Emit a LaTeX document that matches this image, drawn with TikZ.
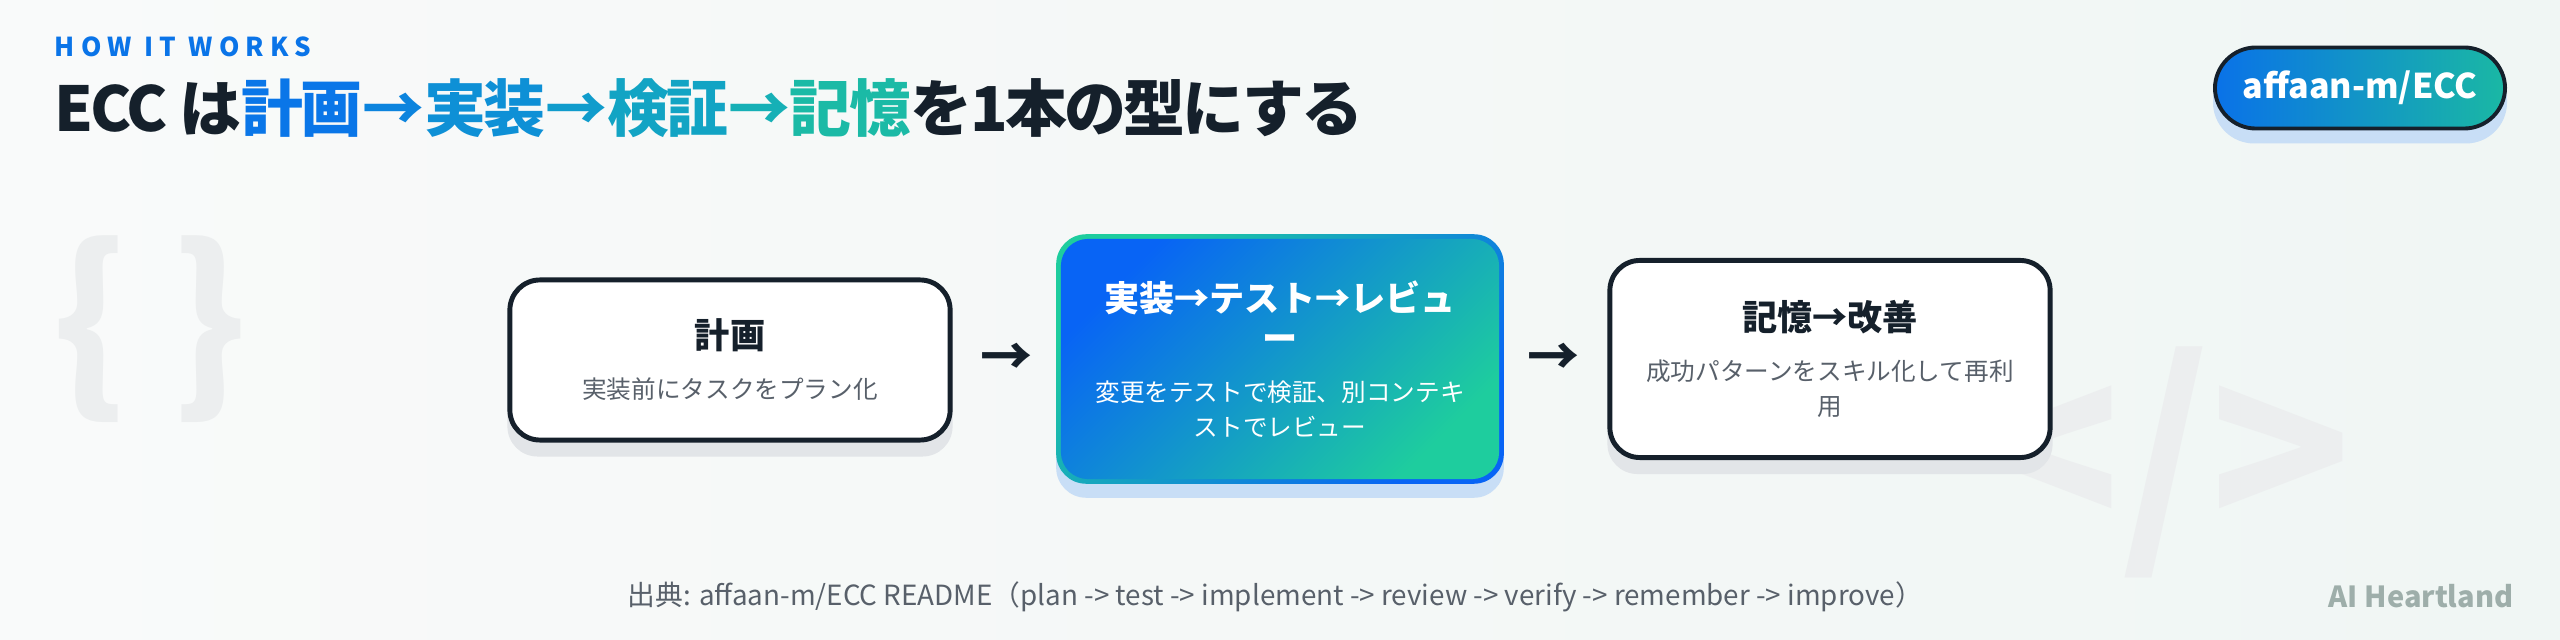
\documentclass[tikz,border=0pt]{standalone}
\usepackage{fontspec}
\setmainfont{Noto Sans CJK JP}
\usetikzlibrary{positioning, calc, backgrounds}

\definecolor{inkdark}{RGB}{21, 32, 43}
\definecolor{subgray}{RGB}{88, 96, 106}
\definecolor{kickerblue}{RGB}{10, 116, 232}
\definecolor{stepa}{RGB}{10, 118, 232}
\definecolor{stepb}{RGB}{12, 132, 222}
\definecolor{stepc}{RGB}{14, 144, 214}
\definecolor{stepd}{RGB}{16, 156, 204}
\definecolor{stepe}{RGB}{18, 164, 196}
\definecolor{stepf}{RGB}{22, 176, 182}
\definecolor{stepg}{RGB}{27, 186, 166}
\definecolor{flowblue}{RGB}{8, 100, 245}
\definecolor{flowteal}{RGB}{30, 205, 158}
\definecolor{pillblue}{RGB}{10, 114, 232}
\definecolor{pillteal}{RGB}{26, 184, 164}
\definecolor{boxshadow}{RGB}{226, 229, 232}
\definecolor{blueshadow}{RGB}{200, 222, 246}
\definecolor{decogray}{RGB}{236, 238, 239}
\definecolor{bgleft}{RGB}{249, 250, 250}
\definecolor{bgright}{RGB}{240, 246, 244}
\definecolor{brandgray}{RGB}{158, 174, 170}

\newcommand{\kickerfont}{\fontsize{7.4}{8}\selectfont\bfseries\addfontfeatures{LetterSpace=24}}
\newcommand{\headfont}{\fontsize{17.6}{20}\selectfont\bfseries\addfontfeatures{LetterSpace=-4.5}}
\newcommand{\boxhead}{\fontsize{10}{11.4}\selectfont\bfseries}
\newcommand{\boxtext}{\fontsize{7}{10}\selectfont\lineskiplimit=-20pt\relax}
\newcommand{\stephead}[1]{{\boxhead\color{inkdark}#1}}

\begin{document}
\begin{tikzpicture}[
  x=0.01cm, y=-0.01cm,
  stepbox/.style={draw=inkdark, line width=1.4pt, fill=white, rounded corners=0.3cm, text width=3.7cm, align=center, inner xsep=0.35cm, inner ysep=0.1cm, text=subgray, font=\boxtext},
  flowbox/.style={shade, top color=flowblue, bottom color=flowteal, shading angle=45, rounded corners=0.27cm, text width=3.9cm, align=center, inner xsep=0.24cm, inner ysep=0.1cm, minimum width=4.38cm, text=white, font=\boxtext},
  flowarrow/.style={text=inkdark, font=\fontsize{14.8}{16}\selectfont\bfseries, inner sep=0pt},
  pill/.style={draw=inkdark, line width=1.1pt, left color=pillblue, right color=pillteal, rounded corners=0.41cm, minimum width=2.9cm, minimum height=0.81cm, text=white, font=\fontsize{9.7}{11}\selectfont\bfseries},
  decotext/.style={text=decogray, inner sep=0pt}
]
  \useasboundingbox (0,0) rectangle (2560,640);

  % header
  \node[anchor=base west, inner sep=0pt, text=kickerblue, font=\kickerfont] (kicker) at (54,57) {HOW IT WORKS};
  \node[anchor=base west, inner sep=0pt, text=inkdark, font=\headfont] (headline) at (54,132)
    {ECC は{\color{stepa}計画}{\color{stepb}→}{\color{stepc}実装}{\color{stepd}→}{\color{stepe}検証}{\color{stepf}→}{\color{stepg}記憶}を1本の型にする};
  \node[pill] (repo) at (2360,88) {affaan-m/ECC};

  % three steps
  \node[stepbox, minimum height=1.6cm] (plan) at (730,360) {\stephead{計画}\\[4.2pt]実装前にタスクをプラン化};
  \node[flowbox, minimum height=2.4cm] (build) at (1280,359)
    {{\boxhead 実装→テスト→レビュ}\\[1.4pt]{\boxhead ー}\\[4.2pt]変更をテストで検証、別コンテキ\\ストでレビュー};
  \node[stepbox, minimum height=1.97cm] (learn) at (1830,359) {\stephead{記憶→改善}\\[4.2pt]成功パターンをスキル化して再利\\用};

  \node[flowarrow] (arr1) at ($(plan.east)!0.5!(build.west)$) {→};
  \node[flowarrow] (arr2) at ($(build.east)!0.5!(learn.west)$) {→};

  % footer
  \node[anchor=base west, inner sep=0pt, text=subgray, font=\fontsize{7.9}{9}\selectfont] (source) at (627,606)
    {出典: affaan-m/ECC README（plan -> test -> implement -> review -> verify -> remember -> improve）};
  \node[anchor=base east, inner sep=0pt, text=brandgray, font=\fontsize{8.25}{9}\selectfont\bfseries] (brand) at (2514,607) {AI Heartland};

  \begin{scope}[on background layer]
    \shade[left color=bgleft, right color=bgright] (0,0) rectangle (2560,640);
    \node[decotext, font=\fontsize{54}{58}\selectfont\bfseries] (braces) at (150,329) {\{ \}};
    \node[decotext, font=\fontsize{66}{70}\selectfont\bfseries] (tag) at (2166,462) {</>};
    \fill[boxshadow, rounded corners=0.3cm] ([yshift=-0.14cm]plan.north west) rectangle ([yshift=-0.14cm]plan.south east);
    \fill[boxshadow, rounded corners=0.3cm] ([yshift=-0.14cm]learn.north west) rectangle ([yshift=-0.14cm]learn.south east);
    \fill[blueshadow, rounded corners=0.3cm] ([shift={(-0.04cm,-0.14cm)}]build.north west) rectangle ([shift={(0.04cm,-0.18cm)}]build.south east);
    \shade[top color=flowteal, bottom color=flowblue, shading angle=45, rounded corners=0.3cm] ([shift={(-0.04cm,0.04cm)}]build.north west) rectangle ([shift={(0.04cm,-0.04cm)}]build.south east);
    \fill[blueshadow, rounded corners=0.41cm] ([yshift=-0.13cm]repo.north west) rectangle ([yshift=-0.13cm]repo.south east);
  \end{scope}
\end{tikzpicture}
\end{document}
